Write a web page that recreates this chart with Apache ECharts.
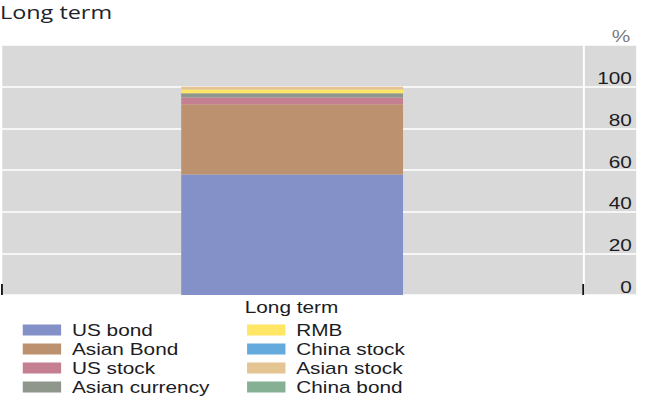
<!DOCTYPE html>
<html>
<head>
<meta charset="utf-8">
<title>Long term</title>
<script src="https://cdn.jsdelivr.net/npm/echarts@6/dist/echarts.min.js"></script>
<style>
  html, body { margin: 0; padding: 0; background: #fff; overflow: hidden; }
  /* the chart is laid out narrow and widened horizontally to the page width */
  #main { width: 496px; height: 404px; transform: scaleX(1.3004); transform-origin: 0 0; }
</style>
</head>
<body>
<div id="main"></div>
<script>
// Portfolio allocation, long-term horizon (percent of total)
const categories = ['Long term'];
const seriesNames = ['US bond', 'Asian Bond', 'US stock', 'Asian currency', 'RMB', 'China stock', 'Asian stock', 'China bond'];
const usBond = [57.9];
const asianBond = [33.7];
const usStock = [3.2];
const asianCurrency = [2.1];
const rmb = [1.8];
const chinaStock = [0];
const asianStock = [1.3];
const chinaBond = [0];
const yTicks = [0, 20, 40, 60, 80, 100];

const seriesValues = [usBond, asianBond, usStock, asianCurrency, rmb, chinaStock, asianStock, chinaBond];
const seriesColors = ['#8490c8', '#bc9170', '#c48090', '#8f968c', '#ffe664', '#64aadc', '#e4c492', '#86b094'];

const FONT = "'Liberation Sans', Arial, sans-serif";
const TEXT = '#1c1c24';

const chart = echarts.init(document.getElementById('main'), null, { renderer: 'svg' });

const bars = seriesNames.map((name, i) => ({
  name: name,
  type: 'bar',
  stack: 'total',
  xAxisIndex: 1,
  yAxisIndex: 1,
  barWidth: '38.1%',
  itemStyle: { color: seriesColors[i] },
  emphasis: { disabled: true },
  data: seriesValues[i]
}));

const legendText = { fontFamily: FONT, fontSize: 16, color: TEXT, lineHeight: 16, padding: [0, 0, 0, 3.3] };

chart.setOption({
  animation: false,
  grid: [
    // shaded panel including the label strip on the right
    { left: 0.77, right: 6.8, top: 45, bottom: 109, show: true, backgroundColor: '#d9d9d9', borderWidth: 0 },
    // plotting area holding the bar
    { left: 0.77, right: 47.5, top: 45, bottom: 109 }
  ],
  xAxis: [
    { type: 'category', gridIndex: 0, data: categories, show: false },
    {
      type: 'category', gridIndex: 1, data: categories,
      boundaryGap: true,
      axisLine: { show: false },
      axisLabel: { show: false },
      axisTick: { show: true, inside: true, length: 11, lineStyle: { color: '#111', width: 1.4 } },
      splitLine: { show: true, lineStyle: { color: '#ffffff', width: 1.5 } }
    }
  ],
  yAxis: [
    {
      type: 'value', gridIndex: 0, position: 'right',
      min: 0, max: 120, interval: 20,
      axisLine: { show: false },
      axisTick: { show: false },
      splitLine: { show: true, lineStyle: { color: '#ffffff', width: 1.5 } },
      axisLabel: {
        inside: true, margin: 3.3, align: 'right', verticalAlign: 'bottom',
        fontFamily: FONT, fontSize: 16, lineHeight: 16, color: TEXT,
        padding: [0, 0, 0, 0],
        formatter: v => (yTicks.indexOf(v) >= 0 ? String(v) : '')
      }
    },
    { type: 'value', gridIndex: 1, min: 0, max: 120, interval: 20, show: false, splitLine: { show: false } }
  ],
  legend: [
    {
      data: seriesNames.slice(0, 4), orient: 'vertical', left: 17.5, top: 322, padding: 0,
      icon: 'rect', itemWidth: 29.5, itemHeight: 11, itemGap: 3,
      selectedMode: false, textStyle: legendText
    },
    {
      data: seriesNames.slice(4), orient: 'vertical', left: 190, top: 322, padding: 0,
      icon: 'rect', itemWidth: 29.5, itemHeight: 11, itemGap: 3,
      selectedMode: false, textStyle: legendText
    }
  ],
  graphic: [
    { type: 'text', left: 0, top: 3, style: { text: 'Long term', font: "18px 'Open Sans', 'Noto Sans', sans-serif", fill: '#20222c' } },
    { type: 'text', x: 224.2, y: 307.5, style: { text: categories[0], font: '16px ' + FONT, fill: TEXT, align: 'center', verticalAlign: 'middle' } },
    { type: 'text', x: 484.6, y: 36, style: { text: '%', font: '16px ' + FONT, fill: '#7a7a80', align: 'right', verticalAlign: 'middle' } }
  ],
  series: bars
});
</script>
</body>
</html>
